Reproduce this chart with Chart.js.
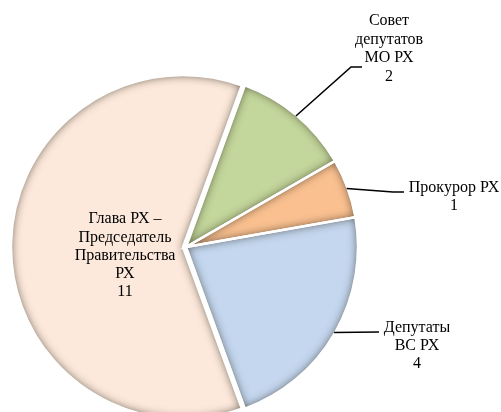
<!DOCTYPE html>
<html>
<head>
<meta charset="utf-8">
<script src="https://cdn.jsdelivr.net/npm/chart.js@4/dist/chart.umd.min.js"></script>
<style>
  html, body { margin: 0; padding: 0; background: #ffffff; }
  #wrap { width: 501px; height: 412px; overflow: hidden; }
</style>
</head>
<body>
<div id="wrap"><canvas id="c" width="501" height="412"></canvas></div>
<script>
// ---- data ----
const categories = [
  ['Совет', 'депутатов', 'МО РХ'],
  ['Прокурор РХ'],
  ['Депутаты', 'ВС РХ'],
  ['Глава РХ –', 'Председатель', 'Правительства', 'РХ']
];
const values = [2, 1, 4, 11];
const sliceColors = ['#C3D69B', '#FAC090', '#C4D7EF', '#FCE9DB'];

// ---- label layout (pixels) ----
const labelLayout = [
  { x: 389, y: 21,  lh: 18.5, leader: [[351, 67], [362, 67]] },
  { x: 454, y: 188, lh: 17.5, leader: [[393, 192], [404, 192]] },
  { x: 417, y: 328, lh: 17.7, leader: [[379, 332]] },
  { x: 125, y: 219, lh: 18.3, leader: null }
];
const sliceShift = [0, 0, 0, 3];

function arcPath(ctx, el, shift) {
  const p = el.getProps(['x', 'y', 'startAngle', 'endAngle', 'outerRadius'], true);
  const mid = (p.startAngle + p.endAngle) / 2;
  const cx = p.x + Math.cos(mid) * shift, cy = p.y + Math.sin(mid) * shift;
  ctx.moveTo(cx, cy);
  ctx.arc(cx, cy, p.outerRadius, p.startAngle, p.endAngle);
  ctx.closePath();
}

const shiftPlugin = {
  id: 'shiftPlugin',
  afterDatasetsUpdate(chart) {
    const meta = chart.getDatasetMeta(0);
    meta.data.forEach((el, i) => {
      if (el._wrapped) return;
      const orig = el.draw;
      el.draw = function (ctx, area) {
        const s = sliceShift[i] || 0;
        const mid = (this.startAngle + this.endAngle) / 2;
        ctx.save();
        ctx.translate(Math.cos(mid) * s, Math.sin(mid) * s);
        orig.call(this, ctx, area);
        ctx.restore();
      };
      el._wrapped = true;
    });
  }
};

const shadePlugin = {
  id: 'shadePlugin',
  afterDatasetsDraw(chart) {
    const ctx = chart.ctx;
    const meta = chart.getDatasetMeta(0);
    meta.data.forEach((el, i) => {
      const s = sliceShift[i] || 0;
      ctx.save();
      ctx.beginPath();
      arcPath(ctx, el, s);
      ctx.clip();
      ctx.beginPath();
      ctx.rect(-2000, -2000, 5000, 5000);
      arcPath(ctx, el, s);
      ctx.shadowColor = 'rgba(30,25,15,0.7)';
      ctx.shadowBlur = 10;
      ctx.fillStyle = '#000';
      ctx.fill('evenodd');
      ctx.restore();
    });
    meta.data.forEach((el, i) => {
      const s = sliceShift[i] || 0;
      ctx.save();
      ctx.beginPath();
      arcPath(ctx, el, s);
      ctx.lineWidth = 2.5;
      ctx.lineJoin = 'miter';
      ctx.strokeStyle = '#ffffff';
      ctx.stroke();
      ctx.restore();
    });
  }
};

const labelPlugin = {
  id: 'labelPlugin',
  afterDraw(chart) {
    const ctx = chart.ctx;
    const meta = chart.getDatasetMeta(0);
    meta.data.forEach((el, i) => {
      const L = labelLayout[i];
      const p = el.getProps(['x', 'y', 'startAngle', 'endAngle', 'outerRadius'], true);
      const mid = (p.startAngle + p.endAngle) / 2;
      if (L.leader) {
        const sx = p.x + Math.cos(mid) * (p.outerRadius - 1);
        const sy = p.y + Math.sin(mid) * (p.outerRadius - 1);
        ctx.save();
        ctx.beginPath();
        ctx.moveTo(sx, sy);
        L.leader.forEach(pt => ctx.lineTo(pt[0], pt[1]));
        ctx.lineWidth = 1.6;
        ctx.strokeStyle = '#000';
        ctx.stroke();
        ctx.restore();
      }
      const lines = categories[i].concat([String(values[i])]);
      ctx.save();
      ctx.font = '16px "Liberation Serif", "Times New Roman", serif';
      ctx.fillStyle = '#000';
      ctx.textAlign = 'center';
      ctx.textBaseline = 'middle';
      lines.forEach((t, k) => ctx.fillText(t, L.x, L.y + k * L.lh));
      ctx.restore();
    });
  }
};

new Chart(document.getElementById('c'), {
  type: 'pie',
  data: {
    labels: categories.map(c => c.join(' ')),
    datasets: [{
      data: values,
      backgroundColor: sliceColors,
      borderColor: '#ffffff',
      borderWidth: 2,
      clip: false
    }]
  },
  options: {
    responsive: false,
    animation: false,
    rotation: 20,
    radius: 172,
    layout: { padding: { left: 0, right: 129, top: 82, bottom: 0 } },
    plugins: {
      legend: { display: false },
      tooltip: { enabled: false }
    }
  },
  plugins: [shiftPlugin, shadePlugin, labelPlugin]
});
</script>
</body>
</html>
